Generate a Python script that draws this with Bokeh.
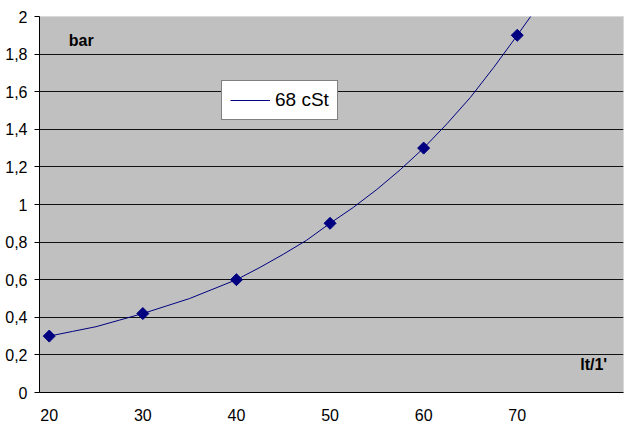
import math
from bokeh.plotting import figure
from bokeh.models import FixedTicker, Range1d, Label, Legend, LegendItem
from bokeh.embed import file_html
from bokeh.resources import INLINE

# measured points
flow = [20, 30, 40, 50, 60, 70]
pressure = [0.30, 0.42, 0.60, 0.90, 1.30, 1.90]

# smooth curve
curve_x = [20, 22.5, 25, 27.5, 30, 32.5, 35, 37.5, 40, 42.5, 45, 47.5, 50,
           52.5, 55, 57.5, 60, 62.5, 65, 67.5, 70, 72]
curve_y = [0.30, 0.325, 0.35, 0.385, 0.42, 0.46, 0.50, 0.55, 0.60, 0.665, 0.735,
           0.81, 0.90, 0.985, 1.08, 1.185, 1.30, 1.43, 1.57, 1.73, 1.90, 2.04]

x_ticks = [20, 30, 40, 50, 60, 70]
y_ticks = [0, 0.2, 0.4, 0.6, 0.8, 1.0, 1.2, 1.4, 1.6, 1.8, 2.0]
y_labels = ["0", "0,2", "0,4", "0,6", "0,8", "1", "1,2", "1,4", "1,6", "1,8", "2"]
series_name = "68 cSt"

FONT = "Liberation Sans"

p = figure(width=628, height=425, output_backend="svg", toolbar_location=None,
           x_range=Range1d(18.96, 81.35), y_range=Range1d(0, 2),
           min_border_left=39, min_border_right=5, min_border_top=16,
           min_border_bottom=33)
p.border_fill_color = "white"
p.background_fill_color = "#c0c0c0"
p.outline_line_color = "#d9d9d9"

p.xgrid.visible = False
p.ygrid.ticker = FixedTicker(ticks=y_ticks)
p.ygrid.grid_line_color = "#111111"
p.ygrid.grid_line_width = 1

p.yaxis.ticker = FixedTicker(ticks=y_ticks)
p.yaxis.major_label_overrides = {t: l for t, l in zip(y_ticks, y_labels)}
p.yaxis.major_tick_out = 5
p.yaxis.major_tick_in = 0
p.yaxis.minor_tick_line_color = None
p.yaxis.major_label_standoff = 7
p.yaxis.axis_line_color = "black"
p.yaxis.major_tick_line_color = "black"

p.xaxis.ticker = FixedTicker(ticks=x_ticks)
p.xaxis.major_tick_out = 0
p.xaxis.major_tick_in = 0
p.xaxis.minor_tick_line_color = None
p.xaxis.major_label_standoff = 16
p.xaxis.axis_line_color = "black"

for ax in (p.xaxis, p.yaxis):
    ax.major_label_text_font = FONT
    ax.major_label_text_font_size = "16px"
    ax.major_label_text_color = "black"

line = p.line(curve_x, curve_y, line_color="#000080", line_width=1)
p.scatter(flow, pressure, marker="square", size=8.5, angle=math.pi / 4,
          fill_color="#000080", line_color="#000080")

legend = Legend(items=[LegendItem(label=series_name, renderers=[line])],
                location=(182, 272))
legend.border_line_color = "black"
legend.border_line_width = 1
legend.background_fill_color = "white"
legend.background_fill_alpha = 1
legend.label_text_font = FONT
legend.label_text_font_size = "19px"
legend.label_text_color = "black"
legend.glyph_width = 40
legend.label_standoff = 5
legend.padding = 8
legend.margin = 0
p.add_layout(legend, "center")

p.add_layout(Label(x=22.08, y=1.87, text="bar", text_font=FONT,
                   text_font_size="16px", text_font_style="bold",
                   text_color="black", text_baseline="middle"))
p.add_layout(Label(x=79.6, y=0.15, text="lt/1'", text_font=FONT,
                   text_font_size="16px", text_font_style="bold",
                   text_color="black", text_baseline="middle",
                   text_align="right"))

open("out.html", "w").write(file_html(p, INLINE))
